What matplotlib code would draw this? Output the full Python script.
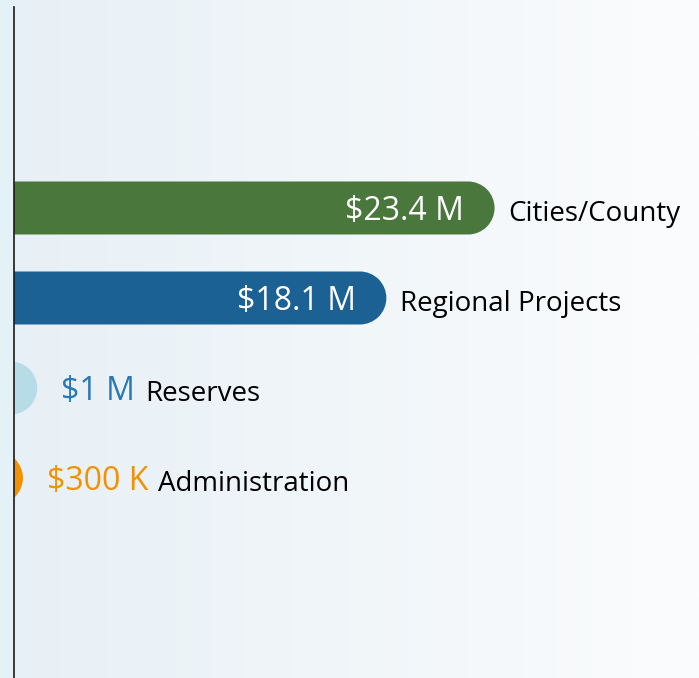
import numpy as np
import matplotlib.pyplot as plt
import matplotlib.patches as mpatches
import matplotlib.transforms as mtransforms
from matplotlib.path import Path
from matplotlib.colors import LinearSegmentedColormap

# data
categories = ["Cities/County", "Regional Projects", "Reserves", "Administration"]
amounts = [23.4, 18.1, 1.0, 0.3]  # millions of dollars
value_labels = ["$23.4 M", "$18.1 M", "$1 M", "$300 K"]
bar_colors = ["#4a773c", "#1b6193", "#b8dce7", "#f39200"]
value_colors = ["white", "white", "#2878b4", "#f39200"]
label_inside = [True, True, False, False]

W, H, DPI = 699, 678, 100
plt.rcParams['font.family'] = ['Open Sans', 'DejaVu Sans']

fig = plt.figure(figsize=(W / DPI, H / DPI), dpi=DPI)

# gradient background
bg = fig.add_axes([0, 0, 1, 1])
grad = np.linspace(0, 1, 256).reshape(1, -1)
cmap = LinearSegmentedColormap.from_list("bg", ["#e7f0f6", "#fbfcfd"])
bg.imshow(grad, aspect="auto", cmap=cmap, extent=[0, 1, 0, 1])
bg.axvspan(0, 14 / W, color="#e4f1f7", lw=0)
bg.set_xlim(0, 1)
bg.set_ylim(0, 1)
bg.axis("off")

ax = fig.add_axes([14 / W, 0, (W - 14) / W, (H - 7) / H])
ax.set_facecolor("none")
ax.set_xlim(1.161, 34.71)
ax.set_ylim(5.222, -2.233)

bar_px = 53
r = bar_px / 2


def pill_path(radius, tail=1500):
    # flat body to the left, half circle cap centred on the origin (pixel units)
    arc = Path.arc(-90, 90)
    verts = [(-tail, -radius)] + [tuple(p * radius) for p in arc.vertices] + [(-tail, radius), (-tail, -radius)]
    codes = [Path.MOVETO] + [Path.LINETO] + list(arc.codes[1:]) + [Path.LINETO, Path.CLOSEPOLY]
    return Path(verts, codes)


# bars: pill anchored at (value, row), clipped at the axis
for i, (v, c) in enumerate(zip(amounts, bar_colors)):
    tr = mtransforms.ScaledTranslation(v, i, ax.transData)
    ax.add_patch(mpatches.PathPatch(pill_path(r), transform=tr, color=c, lw=0))

val_fs, cat_fs = 23, 20
renderer = fig.canvas.get_renderer()
for i, v in enumerate(amounts):
    if label_inside[i]:
        ax.annotate(value_labels[i], xy=(v, i), xytext=(-4, -12), textcoords="offset pixels",
                    ha="right", va="baseline", color=value_colors[i], fontsize=val_fs,
                    annotation_clip=False)
        ax.annotate(categories[i], xy=(v, i), xytext=(r + 14, -13), textcoords="offset pixels",
                    ha="left", va="baseline", color="black", fontsize=cat_fs,
                    annotation_clip=False)
    else:
        t = ax.annotate(value_labels[i], xy=(v, i), xytext=(r + 24, -12), textcoords="offset pixels",
                        ha="left", va="baseline", color=value_colors[i], fontsize=val_fs,
                        annotation_clip=False)
        bb = t.get_window_extent(renderer)
        x0 = ax.transData.transform((v, i))[0]
        ax.annotate(categories[i], xy=(v, i), xytext=(bb.x1 - x0 + 10, -13), textcoords="offset pixels",
                    ha="left", va="baseline", color="black", fontsize=cat_fs,
                    annotation_clip=False)

for s in ["top", "right", "bottom"]:
    ax.spines[s].set_visible(False)
ax.spines["left"].set_color("#1a1a1a")
ax.spines["left"].set_linewidth(1.2)
ax.set_xticks([])
ax.set_yticks([])

fig.savefig("out.png", dpi=DPI)
